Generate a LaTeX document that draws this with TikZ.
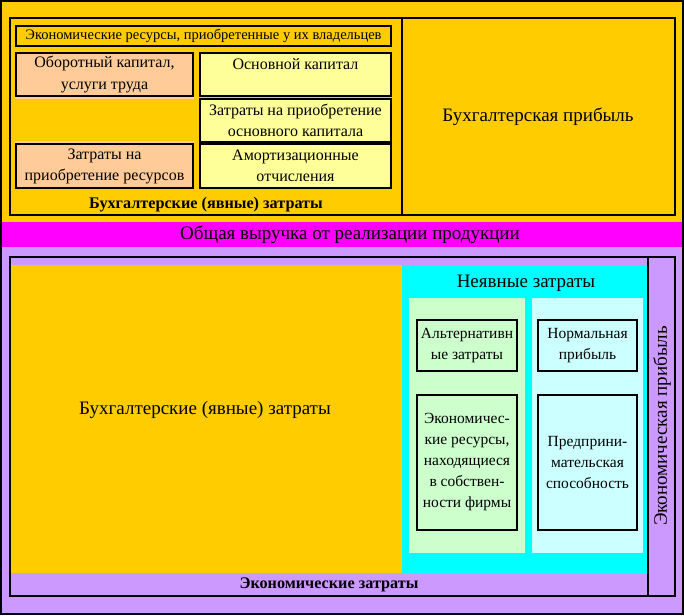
\documentclass[tikz,border=0pt]{standalone}
\usepackage{fontspec}
\setmainfont{Liberation Serif}
\definecolor{yel}{HTML}{FFCC00}
\definecolor{mag}{HTML}{FF00FF}
\definecolor{lav}{HTML}{CC99FF}
\definecolor{peach}{HTML}{FFCC99}
\definecolor{lyel}{HTML}{FFFF99}
\definecolor{cyn}{HTML}{00FFFF}
\definecolor{lgreen}{HTML}{CCFFCC}
\definecolor{lcyan}{HTML}{CCFFFF}
\tikzset{
  frameline/.style={line width=2pt, draw=black},
  cellbox/.style={draw=black, line width=2pt, inner sep=0pt, align=center, font=\fontsize{16}{21}\selectfont},
  smallcell/.style={cellbox, font=\fontsize{15.5}{21}\selectfont},
  bigtext/.style={inner sep=0pt, align=center, font=\fontsize{19}{22}\selectfont},
  boldtext/.style={inner sep=0pt, align=center, font=\bfseries\fontsize{16.2}{18}\selectfont},
}
\begin{document}
\begin{tikzpicture}[x=1pt,y=-1pt]
\useasboundingbox (0,0) rectangle (684,615);
% backgrounds
\fill[yel] (0,0) rectangle (684,222);
\fill[mag] (0,222) rectangle (684,247);
\fill[lav] (0,247) rectangle (684,615);
\draw[frameline] (1,1) rectangle (683,614);
% top table
\draw[frameline] (9.5,18.5) rectangle (675,215);
\draw[frameline] (402,18.5) -- (402,215);
\fill[peach] (15,97) rectangle (194,99);
\fill[peach] (15,141) rectangle (194,143);
\node[cellbox, font=\fontsize{14.5}{21}\selectfont, minimum width=375pt, minimum height=20pt] (res) at (203.5,36) {Экономические ресурсы, приобретенные у их владельцев};
\node[cellbox, fill=peach, minimum width=177pt, minimum height=43pt] (obor) at (104.5,74.5) {Оборотный капитал,\\услуги труда};
\node[cellbox, fill=lyel, minimum width=191pt, minimum height=43pt] (osn) at (295.5,74.5) {Основной капитал\\~};
\node[cellbox, fill=lyel, minimum width=191pt, minimum height=43pt] (zosn) at (295.5,120.5) {Затраты на приобретение\\основного капитала};
\node[cellbox, fill=peach, minimum width=177pt, minimum height=44pt] (zres) at (104.5,166) {Затраты на\\приобретение ресурсов};
\node[cellbox, fill=lyel, minimum width=191pt, minimum height=44pt] (amort) at (295.5,166) {Амортизационные\\отчисления};
\node[boldtext] (buhtop) at (206,205) {Бухгалтерские (явные) затраты};
\node[bigtext] (buhprib) at (538,117) {Бухгалтерская прибыль};
% magenta band
\node[bigtext] (vyr) at (350,235) {Общая выручка от реализации продукции};
% bottom table
\fill[yel] (11,265) rectangle (402,573);
\fill[cyn] (402,265) rectangle (647,573);
\fill[lgreen] (409,298) rectangle (525,553);
\fill[lcyan] (532,298) rectangle (643,553);
\draw[frameline] (10,257) rectangle (675,596);
\draw[frameline] (648,257) -- (648,596);
\node[bigtext] (buhbot) at (205,410) {Бухгалтерские (явные) затраты};
\node[bigtext] (neyav) at (526,283) {Неявные затраты};
\node[smallcell, fill=lgreen, minimum width=100pt, minimum height=51pt] (alt) at (467,345.5) {Альтернативн\\ые затраты};
\node[smallcell, fill=lgreen, minimum width=100pt, minimum height=135pt] (ekres) at (467,462.5) {Экономичес-\\кие ресурсы,\\находящиеся\\в собствен-\\ности фирмы};
\node[smallcell, fill=lcyan, minimum width=99pt, minimum height=51pt] (norm) at (587.5,345.5) {Нормальная\\прибыль};
\node[smallcell, fill=lcyan, minimum width=99pt, minimum height=135pt] (predpr) at (587.5,462.5) {Предприни-\\мательская\\способность};
\node[bigtext, rotate=90] (ekprib) at (662,426) {Экономическая прибыль};
\node[boldtext] (ekzat) at (329,585) {Экономические затраты};
\end{tikzpicture}
\end{document}
